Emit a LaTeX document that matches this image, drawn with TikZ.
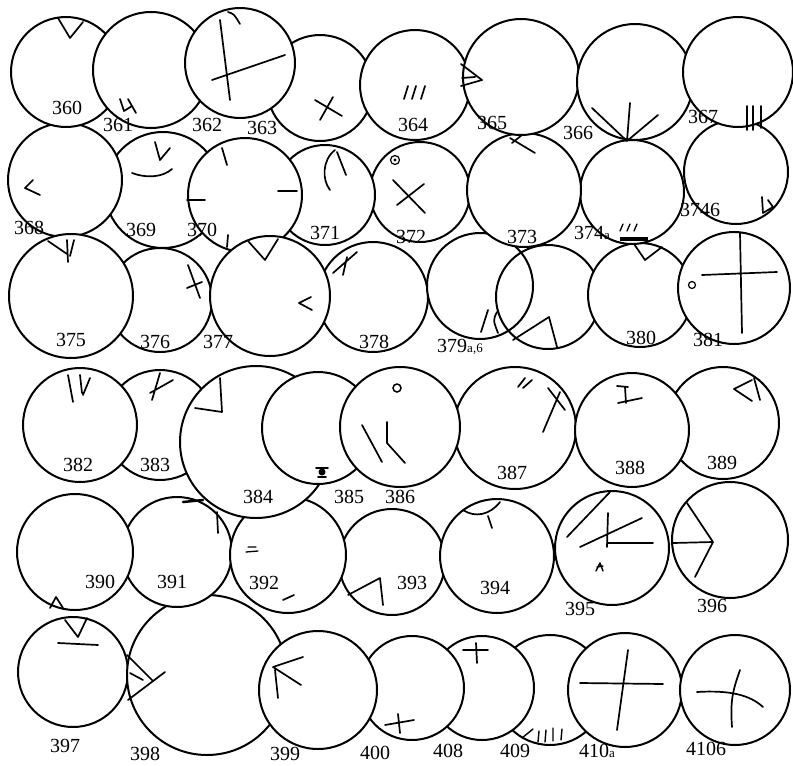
\documentclass[tikz,border=0pt]{standalone}
\usepackage{fontspec}
\setmainfont{Liberation Serif}
\begin{document}
\begin{tikzpicture}[x=1pt,y=-1pt,
  disc/.style={draw=black,line width=2pt,fill=white},
  opendisc/.style={draw=black,line width=2pt},
  mk/.style={draw=black,line width=1.7pt,line cap=round,line join=round},
  lab/.style={font=\fontsize{20}{20}\selectfont,inner sep=0pt},
  sm/.style={font=\fontsize{13}{13}\selectfont}]
\useasboundingbox (0,0) rectangle (793,766);
% ---------- row 6 (back)
\draw[disc] (550,690) circle[radius=55pt];
\draw[disc] (482,688) circle[radius=52pt];
\draw[disc] (412,688) circle[radius=52pt];
\draw[disc] (73,672) circle[radius=55pt];
\draw[disc] (207,675) circle[radius=80pt];
\draw[disc] (318,690) circle[radius=59pt];
\draw[disc] (625,690) circle[radius=57pt];
\draw[disc] (735,690) circle[radius=55pt];
% ---------- row 5
\draw[disc] (392,562) circle[radius=53pt];
\draw[disc] (497,556) circle[radius=57pt];
\draw[disc] (177,552) circle[radius=55pt];
\draw[disc] (288,555) circle[radius=58pt];
\draw[disc] (75,552) circle[radius=58pt];
\draw[disc] (612,548) circle[radius=57pt];
\draw[disc] (730,540) circle[radius=58pt];
% ---------- row 4
\draw[disc] (160,425) circle[radius=55pt];
\draw[disc] (80,425) circle[radius=57pt];
\draw[disc] (256,442) circle[radius=76pt];
\draw[disc] (318,428) circle[radius=56pt];
\draw[disc] (515,428) circle[radius=61pt];
\draw[disc] (400,427) circle[radius=60pt];
\draw[disc] (723,423) circle[radius=56pt];
\draw[disc] (632,430) circle[radius=57pt];
% ---------- row 3 (part)
\draw[disc] (160,300) circle[radius=52pt];
\draw[disc] (373,297) circle[radius=55pt];
\draw[disc] (480,286) circle[radius=53pt];
\draw[opendisc] (548,297) circle[radius=52pt];
\draw[disc] (640,295) circle[radius=52pt];
\draw[disc] (734,288) circle[radius=56pt];
% ---------- row 2
\draw[disc] (420,192) circle[radius=50pt];
\draw[disc] (325,195) circle[radius=50pt];
\draw[disc] (163,190) circle[radius=58pt];
\draw[disc] (245,195) circle[radius=57pt];
\draw[disc] (65,180) circle[radius=57pt];
\draw[disc] (632,192) circle[radius=52pt];
\draw[disc] (524,190) circle[radius=57pt];
\draw[disc] (736,172) circle[radius=52pt];
% ---------- row 3 (front ones)
\draw[disc] (71,296) circle[radius=62pt];
\draw[disc] (270,296) circle[radius=60pt];
% ---------- row 1
\draw[disc] (66,72) circle[radius=55pt];
\draw[disc] (151,70) circle[radius=58pt];
\draw[disc] (320,88) circle[radius=53pt];
\draw[disc] (240,63) circle[radius=55pt];
\draw[disc] (415,85) circle[radius=55pt];
\draw[disc] (521,77) circle[radius=58pt];
\draw[disc] (635,82) circle[radius=58pt];
\draw[disc] (738,72) circle[radius=55pt];

% ================= marks
% row 1
\draw[mk] (58,18)--(70,38)--(83,22);
\draw[mk] (120,99)--(124,111)--(132,106) (128,99)--(136,113);
\draw[mk] (220,20)--(230,100) (212,80)--(285,55);
\draw[mk] (228,12) .. controls (234,14) .. (240,24);
\draw[mk] (315,100)--(342,116) (333,97)--(320,120);
\draw[mk] (408,86)--(404,99) (416,86)--(412,99) (425,86)--(421,99);
\draw[mk] (461,64)--(482,80)--(461,86) (462,78)--(475,77);
\draw[mk] (592,108)--(627,141) (630,103)--(627,141) (658,115)--(627,141);
\draw[mk] (747,106)--(747,130) (753,106)--(753,130) (761,106)--(761,128);
% row 2
\draw[mk] (33,180)--(25,188)--(40,195);
\draw[mk] (155,142)--(160,160)--(170,148);
\draw[mk] (132,173) .. controls (145,178) and (162,178) .. (172,169);
\draw[mk] (222,148)--(227,165) (187,200)--(205,200) (278,191)--(297,191) (228,235)--(227,247);
\draw[mk] (335,150) .. controls (322,160) and (322,180) .. (330,190) (337,152)--(346,175);
\draw[line width=1.2pt] (395,160) circle[radius=4.5pt];
\fill (395,160) circle[radius=1.6pt];
\draw[mk] (393,180)--(425,213) (397,205)--(424,184);
\draw[mk] (510,138)--(535,153) (512,143)--(522,135);
\draw[mk,line width=1.3pt] (620,231)--(623,224) (627,231)--(630,224) (634,231)--(637,224);
\draw[line width=3.5pt] (620,239)--(648,239);
\draw[mk] (762,197)--(763,213)--(773,207)--(768,200);
% row 3
\draw[mk] (48,241)--(67,254) (67,240)--(68,262) (74,240)--(70,256);
\draw[mk] (188,265)--(200,298) (187,288)--(202,282);
\draw[mk] (248,241)--(265,260)--(278,239) (311,297)--(299,303)--(312,310);
\draw[mk] (333,273)--(357,252) (347,257)--(343,275);
\draw[mk] (488,310)--(481,332) (497,312) .. controls (493,320) .. (498,333);
\draw[mk] (513,340)--(549,317)--(557,347);
\draw[mk] (634,244)--(645,260)--(662,247);
\draw[line width=1.2pt] (692,285) circle[radius=3.5pt];
\draw[mk] (740,233)--(742,333) (702,275)--(777,272);
% row 4
\draw[mk] (68,375)--(73,402) (80,375)--(82,393) (90,378)--(83,395);
\draw[mk] (160,373)--(152,400) (150,393)--(173,380);
\draw[mk] (195,408)--(222,412)--(220,378);
\fill (322,472) circle[radius=3.5pt];
\draw[mk] (316,468)--(328,468) (318,477)--(326,477);
\draw[line width=1.5pt] (397,388) circle[radius=4pt];
\draw[mk] (362,425)--(382,462) (387,422)--(387,443)--(405,463);
\draw[mk] (518,387)--(525,378) (523,388)--(532,380) (548,388)--(565,410) (560,392)--(543,432);
\draw[mk] (617,386)--(628,387) (625,387)--(626,403) (618,403)--(642,398);
\draw[mk] (752,380)--(734,389)--(752,401) (754,378)--(760,400);
% row 5
\draw[mk] (50,608)--(56,597)--(63,608);
\draw[mk,line width=2.5pt] (183,502)--(203,500);
\draw[mk] (217,512)--(218,533);
\draw[mk,line width=1.3pt] (248,547)--(256,547) (246,552)--(258,551);
\draw[mk] (283,600)--(294,595);
\draw[mk] (348,595)--(380,578)--(383,605);
\draw[mk] (463,510) .. controls (475,518) and (490,515) .. (500,502) (488,516)--(492,528);
\draw[mk] (567,537)--(610,492) (580,547)--(642,518) (608,513)--(607,547) (607,543)--(653,543);
\draw[mk,line width=1.4pt] (596,571)--(600,563)--(603,571) (597,567)--(603,566);
\draw[mk] (687,503)--(713,542) (673,543)--(713,542)--(695,577);
% row 6
\draw[mk] (65,620)--(78,637)--(87,618) (58,643)--(98,645);
\draw[mk] (127,655)--(153,681) (128,700)--(165,672) (130,673)--(143,680);
\draw[mk] (273,667)--(303,657) (273,667)--(301,685) (275,670)--(278,698);
\draw[mk] (385,725)--(414,720) (398,714)--(400,733);
\draw[mk] (476,643)--(477,663) (463,650)--(488,650);
\draw[mk,line width=1.4pt] (522,738)--(533,729) (539,731)--(538,742) (546,730)--(545,742) (553,728)--(553,741) (562,729)--(561,740);
\draw[mk] (580,683)--(663,684) (628,650)--(617,730);
\draw[mk] (697,692) .. controls (730,690) and (750,695) .. (763,707);
\draw[mk] (740,670) .. controls (733,690) and (730,700) .. (732,727);

% ================= labels
\node[lab] (n360) at (67,108) {360};
\node[lab] (n361) at (118,125) {361};
\node[lab] (n362) at (207,125) {362};
\node[lab] (n363) at (262,128) {363};
\node[lab] (n364) at (413,125) {364};
\node[lab] (n365) at (492,123) {365};
\node[lab] (n366) at (578,133) {366};
\node[lab] (n367) at (703,117) {367};
\node[lab] (n368) at (29,228) {368};
\node[lab] (n369) at (141,230) {369};
\node[lab] (n370) at (202,230) {370};
\node[lab] (n371) at (325,233) {371};
\node[lab] (n372) at (411,237) {372};
\node[lab] (n373) at (522,237) {373};
\node[lab] (n374a) at (592,233) {374{\fontsize{13}{13}\selectfont a}};
\node[lab] (n3746) at (700,210) {3746};
\node[lab] (n375) at (71,340) {375};
\node[lab] (n376) at (155,342) {376};
\node[lab] (n377) at (218,342) {377};
\node[lab] (n378) at (374,342) {378};
\node[lab] (n379) at (460,347) {379{\fontsize{13}{13}\selectfont a,6}};
\node[lab] (n380) at (641,338) {380};
\node[lab] (n381) at (708,340) {381};
\node[lab] (n382) at (78,465) {382};
\node[lab] (n383) at (155,465) {383};
\node[lab] (n384) at (258,497) {384};
\node[lab] (n385) at (349,497) {385};
\node[lab] (n386) at (400,497) {386};
\node[lab] (n387) at (512,473) {387};
\node[lab] (n388) at (630,468) {388};
\node[lab] (n389) at (722,463) {389};
\node[lab] (n390) at (100,582) {390};
\node[lab] (n391) at (172,582) {391};
\node[lab] (n392) at (264,583) {392};
\node[lab] (n393) at (412,583) {393};
\node[lab] (n394) at (495,588) {394};
\node[lab] (n395) at (580,609) {395};
\node[lab] (n396) at (712,606) {396};
\node[lab] (n397) at (65,746) {397};
\node[lab] (n398) at (145,754) {398};
\node[lab] (n399) at (285,754) {399};
\node[lab] (n400) at (375,753) {400};
\node[lab] (n408) at (448,751) {408};
\node[lab] (n409) at (515,751) {409};
\node[lab] (n410a) at (597,751) {410{\fontsize{13}{13}\selectfont a}};
\node[lab] (n4106) at (706,749) {4106};
\end{tikzpicture}
\end{document}
